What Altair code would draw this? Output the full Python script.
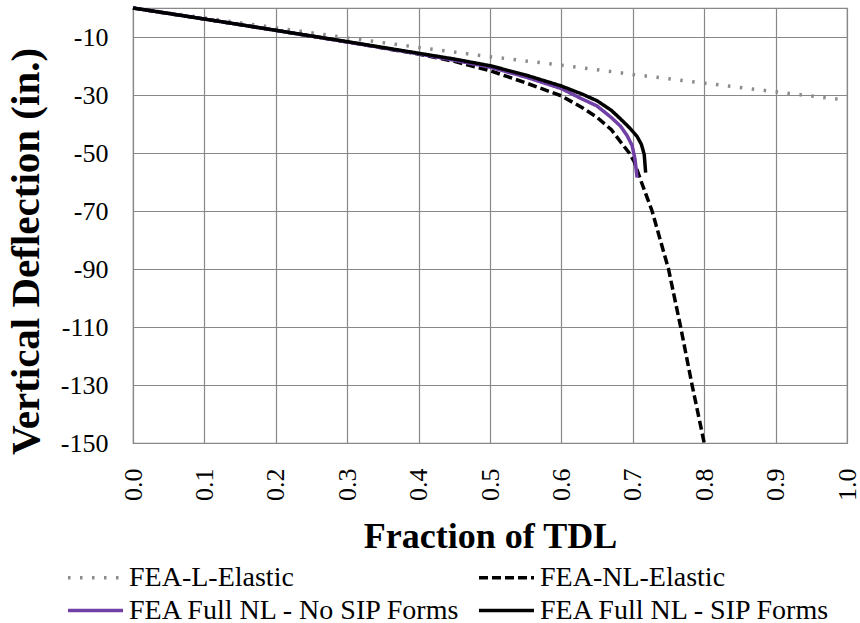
import altair as alt
import pandas as pd

# ---- data ----
series_names = ["FEA-L-Elastic", "FEA-NL-Elastic", "FEA Full NL - No SIP Forms", "FEA Full NL - SIP Forms"]

lin_x = [0.0, 0.1, 0.2, 0.3, 0.4, 0.5, 0.6, 0.7, 0.8, 0.9, 1.0]
lin_y = [0.0, -3.4, -6.8, -10.3, -13.6, -16.8, -19.7, -22.9, -25.9, -28.9, -31.8]

nle_x = [0.0, 0.1, 0.2, 0.3, 0.4, 0.45, 0.5, 0.55, 0.6, 0.63, 0.65, 0.67, 0.683, 0.695, 0.702, 0.712, 0.727, 0.75, 0.767, 0.783, 0.80]
nle_y = [0.0, -3.8, -7.7, -11.7, -15.9, -18.4, -21.6, -25.8, -30.3, -34.5, -37.7, -42.0, -46.2, -50.0, -53.0, -60.0, -70.0, -90.0, -110.0, -130.0, -150.0]

nosip_x = [0.0, 0.1, 0.2, 0.3, 0.4, 0.45, 0.5, 0.55, 0.6, 0.63, 0.65, 0.67, 0.683, 0.692, 0.699, 0.703, 0.706]
nosip_y = [0.0, -3.8, -7.7, -11.7, -15.8, -18.0, -20.4, -23.8, -27.8, -31.5, -33.8, -37.8, -40.8, -44.0, -47.4, -52.0, -58.5]

sip_x = [0.0, 0.1, 0.2, 0.3, 0.4, 0.45, 0.5, 0.55, 0.6, 0.63, 0.65, 0.67, 0.683, 0.695, 0.706, 0.712, 0.716, 0.718]
sip_y = [0.0, -3.8, -7.7, -11.6, -15.6, -17.6, -19.9, -23.1, -26.9, -29.8, -32.0, -35.3, -38.3, -41.2, -44.3, -47.0, -50.5, -56.8]

x_ticks = [0.0, 0.1, 0.2, 0.3, 0.4, 0.5, 0.6, 0.7, 0.8, 0.9, 1.0]
y_ticks = [-150, -130, -110, -90, -70, -50, -30, -10]

series_colors = {"FEA-L-Elastic": "#8c8c8c", "FEA-NL-Elastic": "#000000",
                 "FEA Full NL - No SIP Forms": "#7140a6", "FEA Full NL - SIP Forms": "#000000"}
series_dashes = {"FEA-L-Elastic": [2.5, 9.5], "FEA-NL-Elastic": [9, 4],
                 "FEA Full NL - No SIP Forms": [1, 0], "FEA Full NL - SIP Forms": [1, 0]}

# legend fills column by column: order domain so rows read as in the reference
legend_order = [series_names[0], series_names[2], series_names[1], series_names[3]]

rows = []
for name, xs, ys in zip(series_names,
                        [lin_x, nle_x, nosip_x, sip_x],
                        [lin_y, nle_y, nosip_y, sip_y]):
    for i, (a, b) in enumerate(zip(xs, ys)):
        rows.append({"series": name, "x": a, "y": b, "order": i})
df = pd.DataFrame(rows)

FONT = "Liberation Serif"

chart = alt.Chart(df).mark_line(strokeWidth=3.5, strokeCap="butt").encode(
    x=alt.X("x:Q",
            scale=alt.Scale(domain=[0, 1], nice=False, zero=False),
            axis=alt.Axis(values=x_ticks, format=".1f", title="Fraction of TDL",
                          labelAngle=270, labelPadding=25, ticks=False,
                          titleFontSize=36,
                          titleY=104, titleBaseline="alphabetic")),
    y=alt.Y("y:Q",
            scale=alt.Scale(domain=[-150, 0], nice=False, zero=False),
            axis=alt.Axis(values=y_ticks, title="Vertical Deflection (in.)",
                          labelExpr="datum.value < 0 ? '-' + abs(datum.value) : '' + datum.value",
                          labelPadding=25, ticks=False, titleFontSize=41,
                          titleX=-95, titleY=243, titleAngle=270,
                          titleBaseline="alphabetic", titleAlign="center")),
    color=alt.Color("series:N",
                    scale=alt.Scale(domain=legend_order,
                                    range=[series_colors[s] for s in legend_order]),
                    legend=alt.Legend(title=None, orient="none", legendX=-53, legendY=554,
                                      columns=2, columnPadding=10, rowPadding=3,
                                      symbolType="M-2,0H2", symbolSize=756,
                                      symbolStrokeWidth=3.5, labelOffset=18,
                                      symbolFillColor="transparent",
                                      labelFont=FONT, labelFontSize=28,
                                      labelColor="#000000", labelLimit=500)),
    strokeDash=alt.StrokeDash("series:N",
                              scale=alt.Scale(domain=legend_order,
                                              range=[series_dashes[s] for s in legend_order]),
                              legend=None),
    order=alt.Order("order:Q"),
).properties(
    width=714,
    height=435,
    background="white",
    autosize=alt.AutoSizeParams(type="none"),
    padding={"left": 133, "top": 8, "right": 13, "bottom": 180},
).configure_axis(
    labelFont=FONT, labelFontSize=26, labelColor="#000000",
    titleFont=FONT, titleFontWeight="bold", titleColor="#000000",
    grid=True, gridColor="#888888", gridWidth=1.2, domain=False,
).configure_view(
    stroke="#888888", strokeWidth=1.2,
)

chart.save("out.html", embed_options={"renderer": "svg", "actions": False})
